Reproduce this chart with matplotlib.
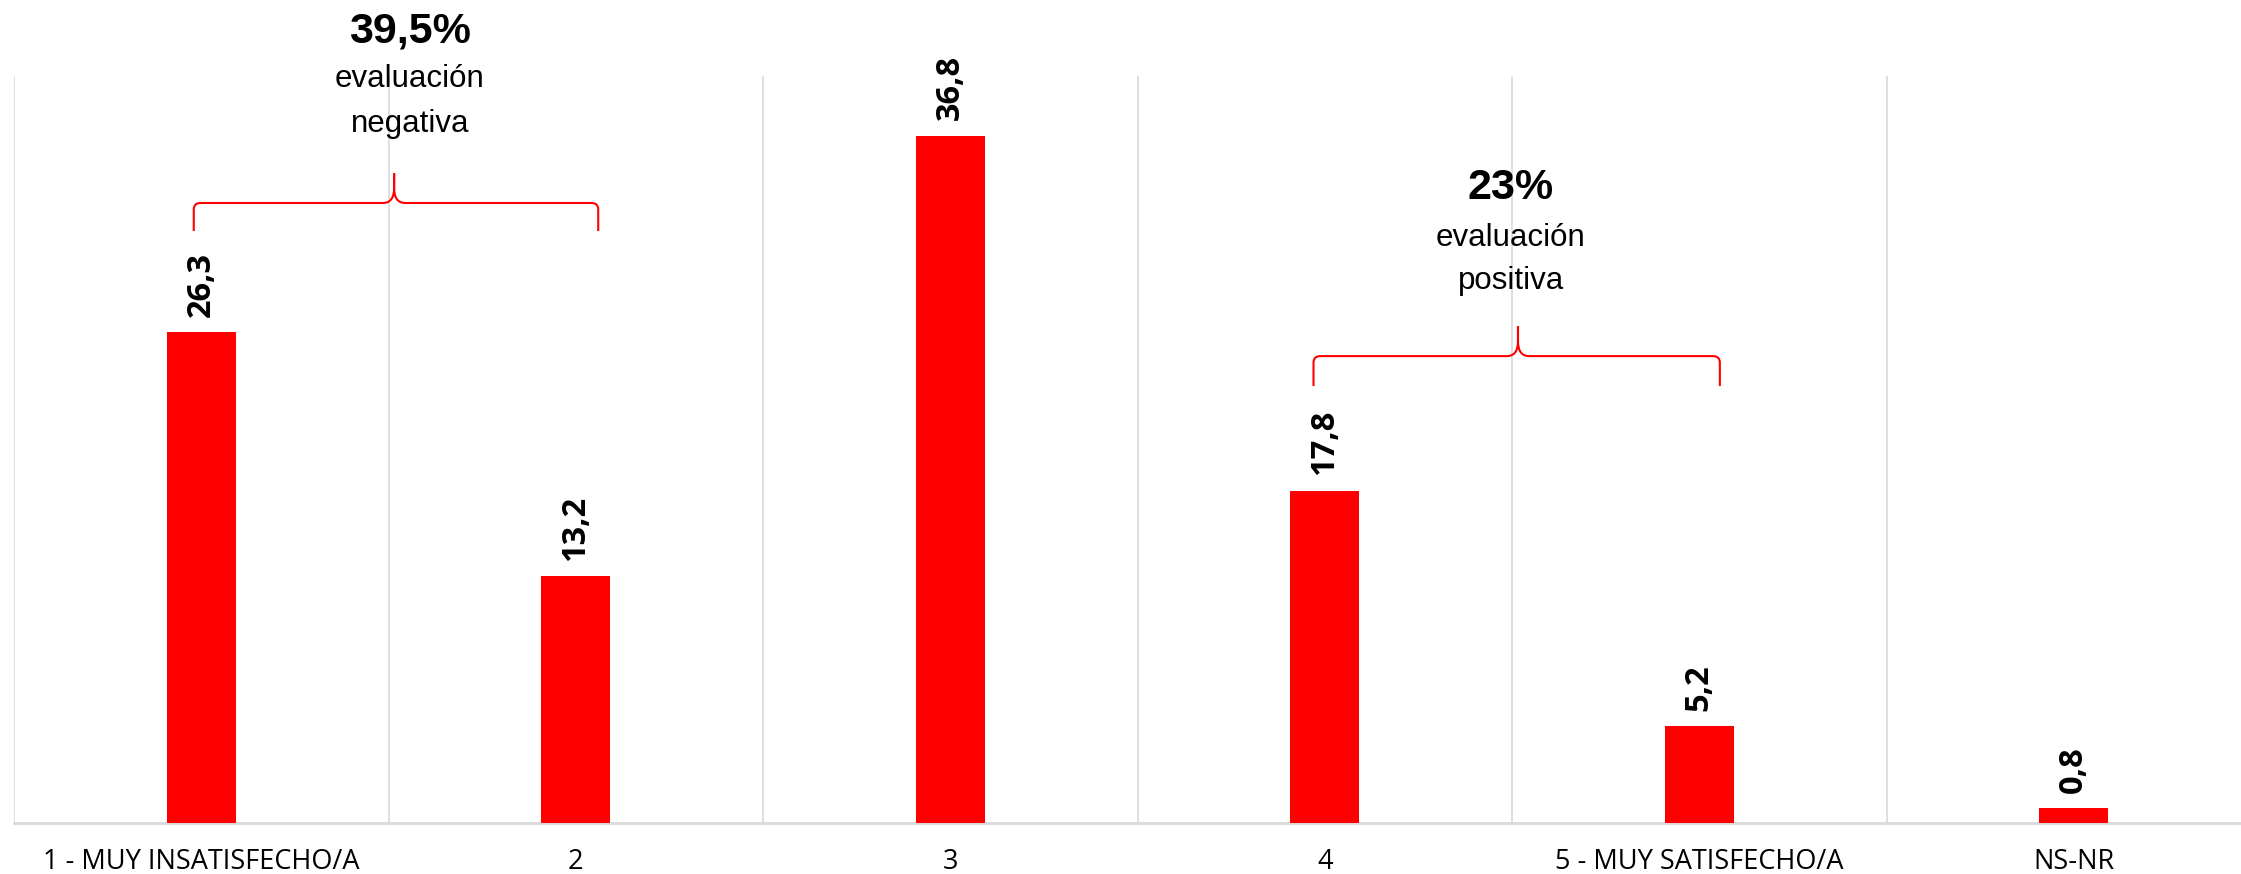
import numpy as np
import matplotlib.pyplot as plt
from matplotlib.path import Path
from matplotlib.patches import PathPatch

categorias = ['1 - MUY INSATISFECHO/A', '2', '3', '4', '5 - MUY SATISFECHO/A', 'NS-NR']
valores = [26.3, 13.2, 36.8, 17.8, 5.2, 0.8]
etiquetas = ['26,3', '13,2', '36,8', '17,8', '5,2', '0,8']

rojo = '#FF0000'
gris = '#D9D9D9'


def llave(ax, x0, x1, xm, y, yend, ytip):
    # llave horizontal con punta hacia arriba
    verts = [(x0, yend), (x0, y - 0.35), (x0, y), (x0 + 0.018, y),
             (xm - 0.03, y), (xm, y), (xm, y + 0.8), (xm, ytip),
             (xm, y + 0.8), (xm, y), (xm + 0.03, y),
             (x1 - 0.018, y), (x1, y), (x1, y - 0.35), (x1, yend)]
    codes = [Path.MOVETO, Path.LINETO, Path.CURVE3, Path.CURVE3,
             Path.LINETO, Path.CURVE3, Path.CURVE3, Path.LINETO,
             Path.LINETO, Path.CURVE3, Path.CURVE3,
             Path.LINETO, Path.CURVE3, Path.CURVE3, Path.LINETO]
    ax.add_patch(PathPatch(Path(verts, codes), fill=False, edgecolor=rojo,
                           lw=1.5, clip_on=False, zorder=4))


fig = plt.figure(figsize=(22.41, 8.74), dpi=100)
ax = fig.add_axes([14 / 2241, 51 / 874, 2247 / 2241, 747 / 874])

x = np.arange(len(categorias))
ax.bar(x, valores, width=0.184, color=rojo, zorder=3)

for xi, v, t in zip(x, valores, etiquetas):
    ax.annotate(t, (xi, v), xytext=(0, 11), textcoords='offset points',
                rotation=90, ha='center', va='bottom', fontsize=23.5,
                fontweight='bold', family='Open Sans', zorder=5)

ax.set_xlim(-0.5, 5.5)
ax.set_ylim(0, 40)
ax.set_xticks(x)
ax.set_xticklabels(categorias, family='Open Sans', fontsize=19.5)
ax.set_xticks(np.arange(-0.5, 6, 1), minor=True)
ax.tick_params(axis='x', which='both', length=0, pad=18)
ax.set_yticks([])
ax.grid(axis='x', which='minor', color=gris, lw=1.2, zorder=0)
ax.grid(axis='x', which='major', visible=False)
for s in ['top', 'right', 'left']:
    ax.spines[s].set_visible(False)
ax.spines['bottom'].set_color(gris)
ax.spines['bottom'].set_linewidth(2)
ax.spines['bottom'].set_zorder(2)

# evaluación negativa
llave(ax, -0.02, 1.06, 0.515, 33.2, 31.7, 34.8)
ax.text(0.557, 41.8, '39,5%', ha='center', va='baseline', fontsize=31,
        fontweight='bold', family='Liberation Sans', clip_on=False)
ax.text(0.557, 39.4, 'evaluación', ha='center', va='baseline', fontsize=22.5,
        family='Liberation Sans', clip_on=False)
ax.text(0.557, 37.0, 'negativa', ha='center', va='baseline', fontsize=22.5,
        family='Liberation Sans', clip_on=False)

# evaluación positiva
llave(ax, 2.97, 4.055, 3.516, 25.0, 23.4, 26.6)
ax.text(3.497, 33.4, '23%', ha='center', va='baseline', fontsize=31,
        fontweight='bold', family='Liberation Sans')
ax.text(3.497, 30.9, 'evaluación', ha='center', va='baseline', fontsize=22.5,
        family='Liberation Sans')
ax.text(3.497, 28.6, 'positiva', ha='center', va='baseline', fontsize=22.5,
        family='Liberation Sans')

plt.savefig('out.png', dpi=100)
